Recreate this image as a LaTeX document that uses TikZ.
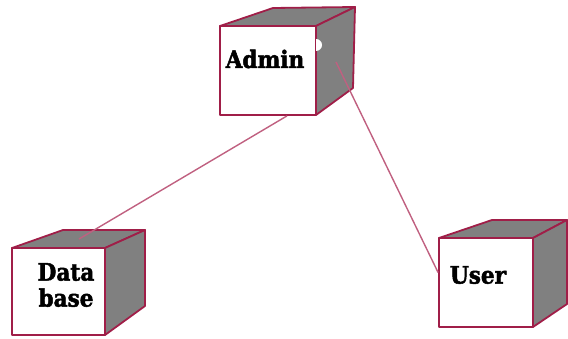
\documentclass[tikz,border=0pt]{standalone}
\usepackage{fontspec}
\setmainfont{DejaVu Serif Condensed}[BoldFeatures={FakeBold=2}]
\definecolor{edge}{RGB}{160,30,72}
\definecolor{conn}{RGB}{192,96,128}
\definecolor{side}{RGB}{128,128,128}
\begin{document}
\begin{tikzpicture}[x=1pt,y=-1pt,
  face/.style={draw=edge,line width=1.8pt,line join=round},
  front/.style={face,fill=white},
  shade/.style={face,fill=side},
  lbl/.style={font=\bfseries\fontsize{24}{27}\selectfont,text=black,inner sep=0pt},
  link/.style={draw=conn,line width=1.4pt}]
\useasboundingbox (0,0) rectangle (568,339);
% Admin cube
\draw[shade] (220,26) -- (273,8) -- (355,7) -- (316,26) -- cycle;
\draw[shade] (316,26) -- (355,7) -- (353,88) -- (316,115) -- cycle;
\node[front,minimum width=96pt,minimum height=89pt,inner sep=0pt] (admin) at (268,70.5) {};
\fill[white] (316,39) arc[start angle=90,end angle=-90,radius=6pt] -- cycle;
\node[lbl] (admintxt) at (265,59) {Admin};
% Database cube
\draw[shade] (12,248) -- (63,230) -- (145,230) -- (105,248) -- cycle;
\draw[shade] (105,248) -- (145,230) -- (145,306) -- (105,335) -- cycle;
\node[front,minimum width=93pt,minimum height=87pt,inner sep=0pt] (db) at (58.5,291.5) {};
\node[lbl,align=center] (dbtxt) at (66,285) {Data\\[-1pt]base};
% User cube
\draw[shade] (439,238) -- (492,220) -- (567,220) -- (533,238) -- cycle;
\draw[shade] (533,238) -- (567,220) -- (567,304) -- (533,327) -- cycle;
\node[front,minimum width=94pt,minimum height=89pt,inner sep=0pt] (user) at (486,282.5) {};
\node[lbl] (usertxt) at (478,275) {User};
% connectors
\coordinate (a1) at ([xshift=19pt]admin.south);
\coordinate (d1) at (79,239);
\coordinate (a2) at (336,62);
\coordinate (u1) at ([yshift=10pt]user.west);
\draw[link] (a1) -- (d1);
\draw[link] (a2) -- (u1);
\end{tikzpicture}
\end{document}
